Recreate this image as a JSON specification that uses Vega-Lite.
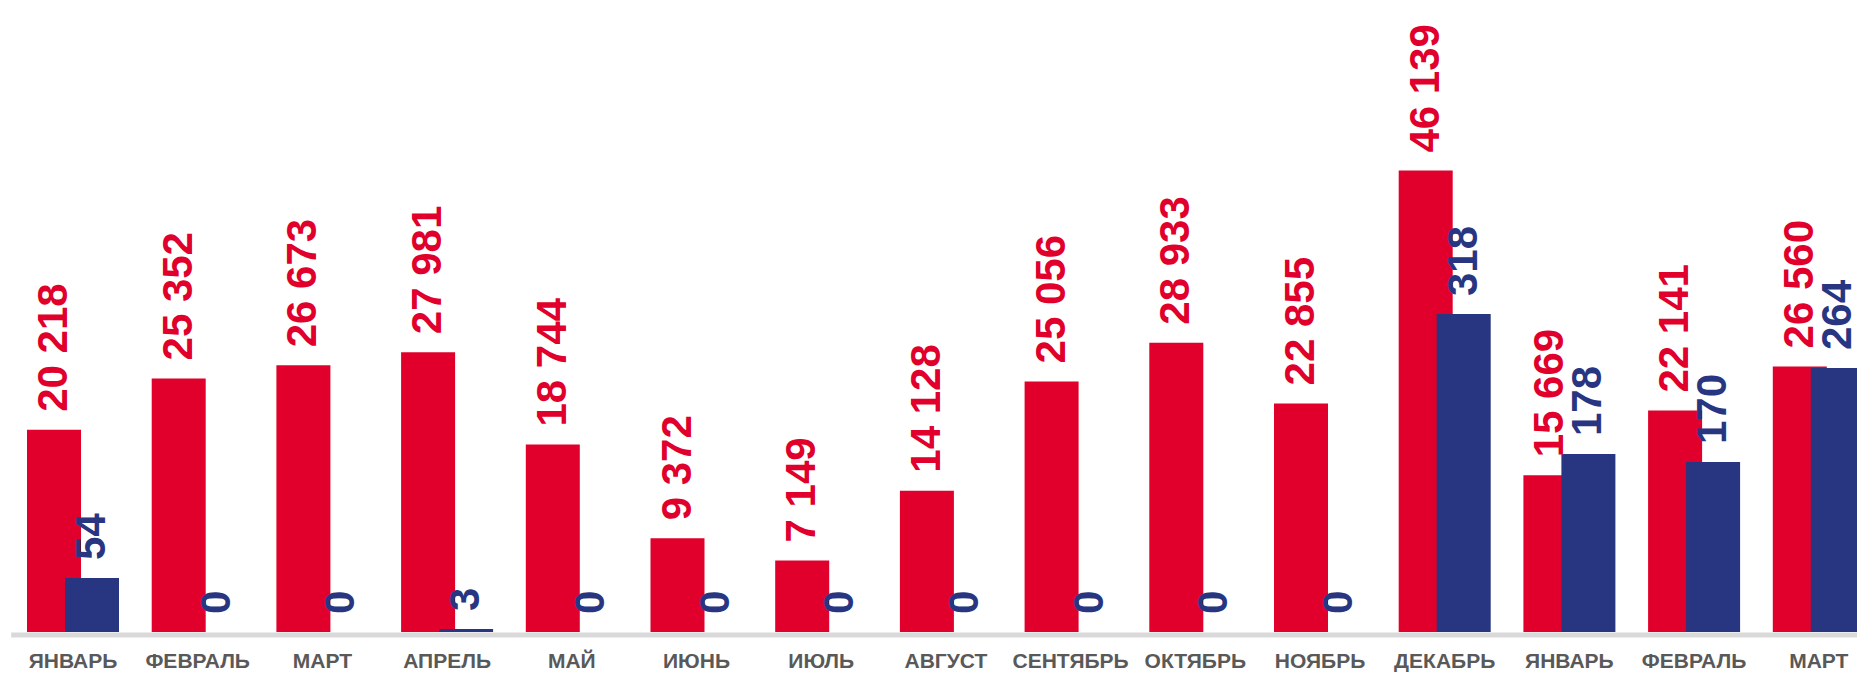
{
  "$schema": "https://vega.github.io/schema/vega-lite/v6.json",
  "autosize": "none",
  "width": 1846.35,
  "height": 632,
  "padding": {"left": 10.65, "right": 0, "top": 0, "bottom": 43},
  "background": "white",
  "config": {
    "view": {"stroke": null},
    "locale": {"number": {"decimal": ",", "thousands": " ", "grouping": [3], "currency": ["", ""]}}
  },
  "data": {
    "values": [
      {"period": "ЯНВАРЬ|1", "red": 20218, "blue": 54},
      {"period": "ФЕВРАЛЬ|1", "red": 25352, "blue": 0},
      {"period": "МАРТ|1", "red": 26673, "blue": 0},
      {"period": "АПРЕЛЬ|1", "red": 27981, "blue": 3},
      {"period": "МАЙ|1", "red": 18744, "blue": 0},
      {"period": "ИЮНЬ|1", "red": 9372, "blue": 0},
      {"period": "ИЮЛЬ|1", "red": 7149, "blue": 0},
      {"period": "АВГУСТ|1", "red": 14128, "blue": 0},
      {"period": "СЕНТЯБРЬ|1", "red": 25056, "blue": 0},
      {"period": "ОКТЯБРЬ|1", "red": 28933, "blue": 0},
      {"period": "НОЯБРЬ|1", "red": 22855, "blue": 0},
      {"period": "ДЕКАБРЬ|1", "red": 46139, "blue": 318},
      {"period": "ЯНВАРЬ|2", "red": 15669, "blue": 178},
      {"period": "ФЕВРАЛЬ|2", "red": 22141, "blue": 170},
      {"period": "МАРТ|2", "red": 26560, "blue": 264}
    ]
  },
  "encoding": {
    "x": {
      "field": "period",
      "type": "ordinal",
      "sort": null,
      "scale": {"range": [0, 1870.5], "paddingInner": 0, "paddingOuter": 0},
      "axis": {
        "title": null,
        "labelExpr": "split(datum.value, '|')[0]",
        "labelAngle": 0,
        "labelFont": "Liberation Sans",
        "labelFontWeight": "bold",
        "labelFontSize": 21,
        "labelColor": "#595959",
        "labelPadding": 16,
        "ticks": false,
        "tickSize": 0,
        "domainColor": "#d9d9d9",
        "domainWidth": 5,
        "offset": 2.5,
        "grid": false
      }
    }
  },
  "layer": [
    {
      "mark": {"type": "bar", "color": "#E0002B", "width": 54, "xOffset": -19},
      "encoding": {
        "y": {"field": "red", "type": "quantitative", "scale": {"domain": [0, 63200]}, "axis": null}
      }
    },
    {
      "mark": {"type": "bar", "color": "#283682", "width": 54, "xOffset": 19},
      "encoding": {
        "y": {"field": "blue", "type": "quantitative", "scale": {"domain": [0, 632]}, "axis": null}
      }
    },
    {
      "mark": {"type": "text", "color": "#E0002B", "angle": -90, "align": "left", "baseline": "middle", "dx": 18, "xOffset": -19, "font": "Liberation Sans", "fontWeight": "bold", "fontSize": 42},
      "encoding": {
        "y": {"field": "red", "type": "quantitative", "scale": {"domain": [0, 63200]}, "axis": null},
        "text": {"field": "red", "type": "quantitative", "format": ",d"}
      }
    },
    {
      "mark": {"type": "text", "color": "#283682", "angle": -90, "align": "left", "baseline": "middle", "dx": 18, "xOffset": 19, "font": "Liberation Sans", "fontWeight": "bold", "fontSize": 42},
      "encoding": {
        "y": {"field": "blue", "type": "quantitative", "scale": {"domain": [0, 632]}, "axis": null},
        "text": {"field": "blue", "type": "quantitative", "format": ",d"}
      }
    }
  ],
  "resolve": {"scale": {"y": "independent"}}
}
